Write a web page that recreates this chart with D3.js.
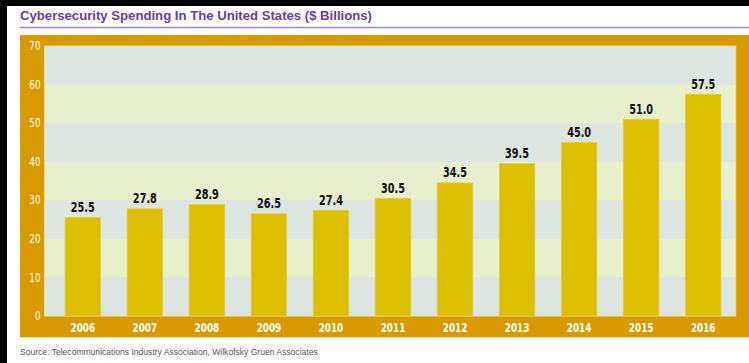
<!DOCTYPE html>
<html>
<head>
<meta charset="utf-8">
<script src="https://cdn.jsdelivr.net/npm/d3@7"></script>
<style>
  html, body { margin: 0; padding: 0; background: #fff; }
  svg { display: block; }
</style>
</head>
<body>
<svg id="chart" width="749" height="363"></svg>
<script>
// Cybersecurity spending in the United States, $ billions
const years = ["2006", "2007", "2008", "2009", "2010", "2011", "2012", "2013", "2014", "2015", "2016"];
const spending = [25.5, 27.8, 28.9, 26.5, 27.4, 30.5, 34.5, 39.5, 45.0, 51.0, 57.5];
const yTicks = [0, 10, 20, 30, 40, 50, 60, 70];

const titleText = "Cybersecurity Spending In The United States ($ Billions)";
const sourceText = "Source: Telecommunications Industry Association, Wilkofsky Gruen Associates";

const W = 749, H = 363;
const plot = { left: 44.5, right: 735.7, top: 46, bottom: 316 };

const colors = {
  frame: "#d99a00",
  bandGray: "#dce5e0",
  bandYellow: "#e7efcd",
  bar: "#dcbf00",
  barEdge: "#e3cd4a",
  title: "#6a3d9e",
  rule: "#a084cc",
  label: "#111111",
  source: "#555555"
};

const condensed = "'DejaVu Sans Condensed', 'DejaVu Sans', sans-serif";
const sans = "'Liberation Sans', Arial, sans-serif";

// squeeze condensed digits horizontally around their anchor point
const squeeze = s => `scale(${s},1)`;

const svg = d3.select("#chart");

// page border strips
svg.append("rect").attr("x", 0).attr("y", 0).attr("width", W).attr("height", H).attr("fill", "#fff");
svg.append("rect").attr("x", 0).attr("y", 0).attr("width", 7).attr("height", H).attr("fill", "#000");
svg.append("rect").attr("x", 0).attr("y", 0).attr("width", W).attr("height", 6).attr("fill", "#000");

// title and rule
svg.append("text")
  .attr("x", 20).attr("y", 20)
  .attr("fill", colors.title)
  .attr("font-family", sans)
  .attr("font-weight", "bold")
  .attr("font-size", 13.15)
  .text(titleText);

svg.append("line")
  .attr("x1", 20).attr("x2", W)
  .attr("y1", 27.5).attr("y2", 27.5)
  .attr("stroke", colors.rule).attr("stroke-width", 1.3);

// orange frame
svg.append("rect")
  .attr("x", 20).attr("y", 35)
  .attr("width", W - 20).attr("height", 302)
  .attr("fill", colors.frame);
svg.append("line")
  .attr("x1", 20).attr("x2", W)
  .attr("y1", 337.5).attr("y2", 337.5)
  .attr("stroke", "#f2dca8").attr("stroke-width", 1);

// scales
const x = d3.scaleBand()
  .domain(years)
  .range([51.8, 734.2])
  .paddingInner(0.428)
  .paddingOuter(0.214);

const y = d3.scaleLinear()
  .domain([0, 70])
  .range([plot.bottom, plot.top]);

// alternating background bands
const bands = d3.pairs(yTicks);
svg.append("g")
  .attr("shape-rendering", "crispEdges")
  .selectAll("rect")
  .data(bands)
  .join("rect")
  .attr("x", plot.left)
  .attr("width", plot.right - plot.left)
  .attr("y", d => Math.round(y(d[1])))
  .attr("height", d => Math.round(y(d[0])) - Math.round(y(d[1])))
  .attr("fill", (d, i) => i % 2 === 0 ? colors.bandGray : colors.bandYellow);

svg.append("rect")
  .attr("x", plot.left).attr("y", plot.top)
  .attr("width", plot.right - plot.left).attr("height", plot.bottom - plot.top)
  .attr("fill", "none").attr("stroke", "#e9dca6").attr("stroke-width", 1);

// bars
svg.append("g").selectAll("rect")
  .data(spending)
  .join("rect")
  .attr("x", (d, i) => x(years[i]))
  .attr("width", x.bandwidth())
  .attr("y", d => y(d))
  .attr("height", d => y(0) - y(d))
  .attr("fill", colors.bar)
  .attr("stroke", colors.barEdge)
  .attr("stroke-width", 0.8);

// value labels
svg.append("g").selectAll("g")
  .data(spending)
  .join("g")
  .attr("transform", (d, i) => `translate(${x(years[i]) + x.bandwidth() / 2},${y(d) - 5.5})`)
  .append("text")
  .attr("transform", squeeze(0.8))
  .attr("text-anchor", "middle")
  .attr("font-family", condensed)
  .attr("font-weight", "bold")
  .attr("font-size", 13.5)
  .attr("fill", colors.label)
  .text(d => d.toFixed(1));

// y axis
const yAxis = svg.append("g")
  .attr("transform", `translate(${plot.left - 4},0)`)
  .call(d3.axisLeft(y).tickValues(yTicks).tickSize(0).tickPadding(0));
yAxis.select(".domain").remove();
yAxis.selectAll("text")
  .attr("transform", squeeze(0.85))
  .attr("fill", "#fff")
  .attr("font-family", condensed)
  .attr("font-size", 11.5);

// x axis
const xAxis = svg.append("g")
  .attr("transform", `translate(0,${plot.bottom})`)
  .call(d3.axisBottom(x).tickSize(0).tickPadding(7));
xAxis.select(".domain").remove();
xAxis.selectAll("text")
  .attr("transform", squeeze(0.8))
  .attr("fill", "#fff")
  .attr("font-family", condensed)
  .attr("font-weight", "bold")
  .attr("font-size", 12.3);

// source line
svg.append("text")
  .attr("x", 20).attr("y", 355)
  .attr("fill", colors.source)
  .attr("font-family", sans)
  .attr("font-size", 8.55)
  .text(sourceText);
</script>
</body>
</html>
